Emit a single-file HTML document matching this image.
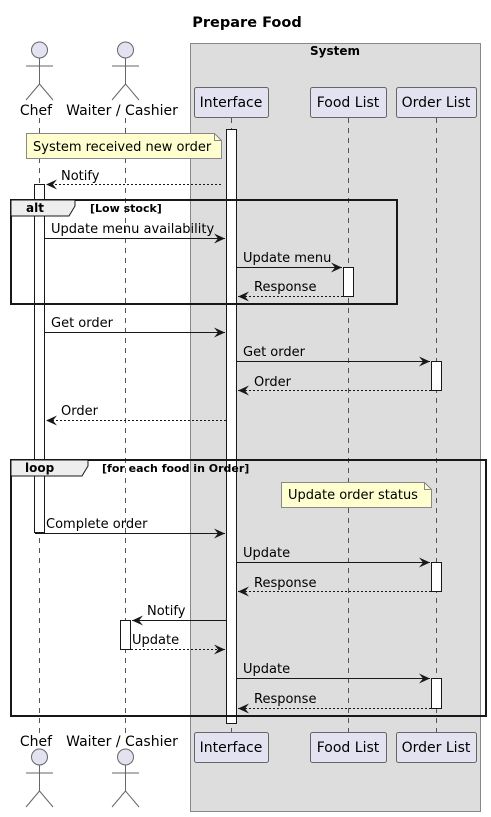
<!DOCTYPE html>
<html><head><meta charset="utf-8"><style>body{margin:0;background:#fff}svg{display:block}text{font-family:"DejaVu Sans","Liberation Sans",sans-serif}</style></head><body>
<svg width="491" height="817" viewBox="0 0 491 817" xmlns="http://www.w3.org/2000/svg">
<defs>
<marker id="a" markerWidth="12" markerHeight="10" refX="11" refY="5" orient="auto" markerUnits="userSpaceOnUse"><path d="M0,0 L11,5 L0,10 L4,5 Z" fill="#181818"/></marker>
</defs>
<text x="247" y="27" font-size="14.5" font-weight="bold" text-anchor="middle">Prepare Food</text>
<rect x="190.5" y="43.5" width="290" height="768" fill="#dddddd" stroke="#888" stroke-width="1"/>
<text x="335" y="55" font-size="12" font-weight="bold" text-anchor="middle">System</text>
<g stroke="#555" stroke-width="1" stroke-dasharray="5,5">
<line x1="39.5" y1="118" x2="39.5" y2="735"/><line x1="125.5" y1="118" x2="125.5" y2="735"/>
<line x1="231.5" y1="118" x2="231.5" y2="732"/><line x1="348.5" y1="118" x2="348.5" y2="732"/><line x1="436.5" y1="118" x2="436.5" y2="732"/>
</g>
<g fill="#e2e2f0" stroke="#666" stroke-width="1">
<circle cx="39.5" cy="50" r="8"/><circle cx="125.5" cy="50" r="8"/>
<circle cx="39.5" cy="757" r="8"/><circle cx="125.5" cy="757" r="8"/>
</g>
<g stroke="#666" stroke-width="1" fill="none">
<path d="M39.5 58V84M26 66H53M39.5 84L26 100M39.5 84L53 100"/>
<path d="M125.5 58V84M112 66H139M125.5 84L112 100M125.5 84L139 100"/>
<path d="M39.5 765V791M26 773H53M39.5 791L26 807M39.5 791L53 807"/>
<path d="M125.5 765V791M112 773H139M125.5 791L112 807M125.5 791L139 807"/>
</g>
<g font-size="14" text-anchor="middle">
<text x="36" y="115">Chef</text><text x="122" y="115">Waiter / Cashier</text>
<text x="36" y="746">Chef</text><text x="122" y="746">Waiter / Cashier</text>
</g>
<g fill="#e2e2f0" stroke="#666" stroke-width="1">
<rect x="194.5" y="87.5" width="74" height="30" rx="2"/><rect x="310.5" y="87.5" width="76" height="30" rx="2"/><rect x="396.5" y="87.5" width="80" height="30" rx="2"/>
<rect x="194.5" y="732.5" width="74" height="30" rx="2"/><rect x="310.5" y="732.5" width="76" height="30" rx="2"/><rect x="396.5" y="732.5" width="80" height="30" rx="2"/>
</g>
<g font-size="14" text-anchor="middle">
<text x="231" y="107">Interface</text><text x="348" y="107">Food List</text><text x="436" y="107">Order List</text>
<text x="231" y="752">Interface</text><text x="348" y="752">Food List</text><text x="436" y="752">Order List</text>
</g>
<g fill="#fff" stroke="#181818" stroke-width="1">
<rect x="226.5" y="129.5" width="10" height="594"/>
<rect x="34.5" y="184.5" width="10" height="348"/>
<rect x="343.5" y="267.5" width="10" height="29"/>
<rect x="431.5" y="361.5" width="10" height="29"/>
<rect x="431.5" y="562.5" width="10" height="29"/>
<rect x="431.5" y="678.5" width="10" height="30"/>
<rect x="120.5" y="620.5" width="10" height="29"/>
</g>
<path d="M26.5 133.5H214.5L221.5 140.5V158.5H26.5Z" fill="#fefece" stroke="#888"/><path d="M214.5 133.5V140.5H221.5" fill="none" stroke="#888"/>
<text x="33" y="151" font-size="13">System received new order</text>
<path d="M281.5 482.5H424.5L431.5 489.5V507.5H281.5Z" fill="#fefece" stroke="#888"/><path d="M424.5 482.5V489.5H431.5" fill="none" stroke="#888"/>
<text x="288" y="499" font-size="13">Update order status</text>
<g fill="none" stroke="#181818" stroke-width="2">
<rect x="11" y="200" width="386" height="104"/>
<rect x="11" y="460" width="475" height="256"/>
</g>
<path d="M11 200H75V206L69 216H11Z" fill="#eee" stroke="#181818" stroke-width="1"/>
<path d="M11 460H88V466L82 476H11Z" fill="#eee" stroke="#181818" stroke-width="1"/>
<g font-size="12" font-weight="bold">
<text x="26" y="212">alt</text><text x="90" y="212" font-size="11">[Low stock]</text>
<text x="25" y="472">loop</text><text x="102" y="472" font-size="11">[for each food in Order]</text>
</g>
<g stroke="#181818" stroke-width="1" marker-end="url(#a)" fill="none">
<line x1="221" y1="184.5" x2="46" y2="184.5" stroke-dasharray="2,2"/>
<line x1="45" y1="238.5" x2="225" y2="238.5"/>
<line x1="237" y1="267.5" x2="342" y2="267.5"/>
<line x1="343" y1="296.5" x2="238" y2="296.5" stroke-dasharray="2,2"/>
<line x1="45" y1="332.5" x2="225" y2="332.5"/>
<line x1="237" y1="361.5" x2="430" y2="361.5"/>
<line x1="431" y1="390.5" x2="238" y2="390.5" stroke-dasharray="2,2"/>
<line x1="226" y1="420.5" x2="46" y2="420.5" stroke-dasharray="2,2"/>
<line x1="35" y1="533.5" x2="225" y2="533.5"/>
<line x1="237" y1="562.5" x2="430" y2="562.5"/>
<line x1="431" y1="591.5" x2="238" y2="591.5" stroke-dasharray="2,2"/>
<line x1="226" y1="620.5" x2="132" y2="620.5"/>
<line x1="131" y1="649.5" x2="225" y2="649.5" stroke-dasharray="2,2"/>
<line x1="237" y1="678.5" x2="430" y2="678.5"/>
<line x1="431" y1="708.5" x2="238" y2="708.5" stroke-dasharray="2,2"/>
</g>
<g font-size="13">
<text x="61" y="180">Notify</text>
<text x="51" y="233">Update menu availability</text>
<text x="243" y="262">Update menu</text>
<text x="254" y="291">Response</text>
<text x="51" y="327">Get order</text>
<text x="243" y="356">Get order</text>
<text x="254" y="386">Order</text>
<text x="61" y="415">Order</text>
<text x="46" y="528">Complete order</text>
<text x="243" y="557">Update</text>
<text x="254" y="587">Response</text>
<text x="147" y="615">Notify</text>
<text x="132" y="644">Update</text>
<text x="243" y="673">Update</text>
<text x="254" y="703">Response</text>
</g>
</svg>
</body></html>
